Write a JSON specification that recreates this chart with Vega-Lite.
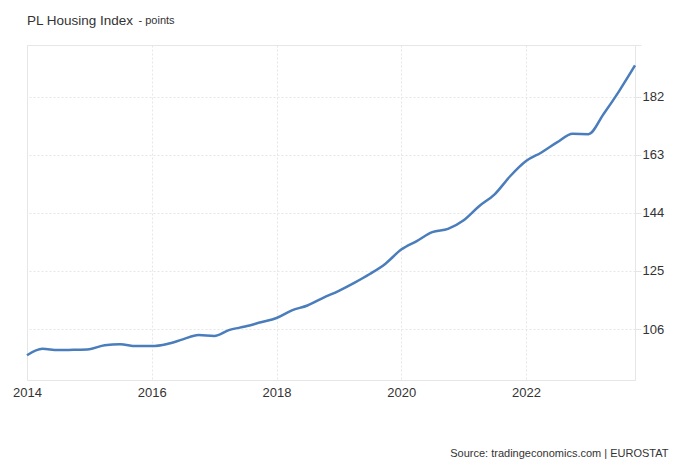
{
  "$schema": "https://vega.github.io/schema/vega-lite/v6.json",
  "width": 608,
  "height": 335,
  "autosize": {"type": "none"},
  "padding": {"left": 27, "top": 45, "right": 45, "bottom": 85},
  "background": "white",
  "title": {
    "text": "PL Housing Index",
    "anchor": "start",
    "frame": "group",
    "font": "Liberation Sans",
    "fontSize": 13.5,
    "fontWeight": "normal",
    "color": "#333333",
    "baseline": "alphabetic",
    "offset": 0,
    "dy": 24
  },
  "config": {
    "view": {"stroke": "#e6e6e6", "strokeWidth": 1},
    "font": "Liberation Sans"
  },
  "data": {
    "values": [
      {"date": "2014-01-01", "value": 97.4},
      {"date": "2014-04-01", "value": 99.5},
      {"date": "2014-07-01", "value": 99.1},
      {"date": "2014-10-01", "value": 99.2},
      {"date": "2015-01-01", "value": 99.4},
      {"date": "2015-04-01", "value": 100.7},
      {"date": "2015-07-01", "value": 101.0},
      {"date": "2015-10-01", "value": 100.4},
      {"date": "2016-01-01", "value": 100.4},
      {"date": "2016-04-01", "value": 101.1},
      {"date": "2016-07-01", "value": 102.6},
      {"date": "2016-10-01", "value": 104.0},
      {"date": "2017-01-01", "value": 103.7},
      {"date": "2017-04-01", "value": 105.7},
      {"date": "2017-07-01", "value": 106.8},
      {"date": "2017-10-01", "value": 108.2},
      {"date": "2018-01-01", "value": 109.6},
      {"date": "2018-04-01", "value": 112.1},
      {"date": "2018-07-01", "value": 113.7},
      {"date": "2018-10-01", "value": 116.2},
      {"date": "2019-01-01", "value": 118.5},
      {"date": "2019-04-01", "value": 121.1},
      {"date": "2019-07-01", "value": 124.0},
      {"date": "2019-10-01", "value": 127.4},
      {"date": "2020-01-01", "value": 132.0},
      {"date": "2020-04-01", "value": 134.8},
      {"date": "2020-07-01", "value": 137.7},
      {"date": "2020-10-01", "value": 138.8},
      {"date": "2021-01-01", "value": 141.6},
      {"date": "2021-04-01", "value": 146.2},
      {"date": "2021-07-01", "value": 150.1},
      {"date": "2021-10-01", "value": 156.1},
      {"date": "2022-01-01", "value": 161.0},
      {"date": "2022-04-01", "value": 163.8},
      {"date": "2022-07-01", "value": 167.1},
      {"date": "2022-10-01", "value": 169.9},
      {"date": "2023-01-01", "value": 169.8},
      {"date": "2023-04-01", "value": 176.5},
      {"date": "2023-07-01", "value": 184.0},
      {"date": "2023-10-01", "value": 192.3}
    ]
  },
  "mark": {
    "type": "line",
    "interpolate": "monotone",
    "color": "#4a7dbb",
    "strokeWidth": 2.5,
    "clip": false
  },
  "encoding": {
    "x": {
      "field": "date",
      "type": "temporal",
      "scale": {"domain": [{"year": 2014, "month": 1, "date": 1}, {"year": 2023, "month": 10, "date": 1}], "nice": false},
      "axis": {
        "values": [{"year": 2014, "month": 1, "date": 1}, {"year": 2016, "month": 1, "date": 1}, {"year": 2018, "month": 1, "date": 1}, {"year": 2020, "month": 1, "date": 1}, {"year": 2022, "month": 1, "date": 1}],
        "format": "%Y",
        "labelFont": "Liberation Sans",
        "labelFontSize": 13,
        "labelColor": "#333333",
        "labelPadding": 6,
        "labelFlush": false,
        "ticks": false,
        "domain": true,
        "domainColor": "#e6e6e6",
        "grid": true,
        "gridColor": "#e6e6e6",
        "gridDash": [2, 2],
        "title": "Source: tradingeconomics.com | EUROSTAT",
        "titleFont": "Liberation Sans",
        "titleFontSize": 11,
        "titleFontWeight": "normal",
        "titleColor": "#333333",
        "titleAlign": "right",
        "titleAnchor": null,
        "titleBaseline": "alphabetic",
        "titleX": 641,
        "titleY": 76
      }
    },
    "y": {
      "field": "value",
      "type": "quantitative",
      "scale": {"domain": [89.3, 199.0], "nice": false, "zero": false},
      "axis": {
        "orient": "right",
        "values": [106, 125, 144, 163, 182, 199],
        "labelExpr": "datum.value > 190 ? '' : datum.label",
        "labelFont": "Liberation Sans",
        "labelFontSize": 13,
        "labelColor": "#333333",
        "labelPadding": 1,
        "tickSize": 6,
        "tickColor": "#e6e6e6",
        "domainColor": "#e6e6e6",
        "grid": true,
        "gridColor": "#e6e6e6",
        "gridDash": [2, 2],
        "title": "- points",
        "titleFont": "Liberation Sans",
        "titleFontSize": 11,
        "titleFontWeight": "normal",
        "titleColor": "#333333",
        "titleAngle": 0,
        "titleAlign": "left",
        "titleAnchor": null,
        "titleBaseline": "alphabetic",
        "titleX": -497,
        "titleY": -22
      }
    }
  }
}
